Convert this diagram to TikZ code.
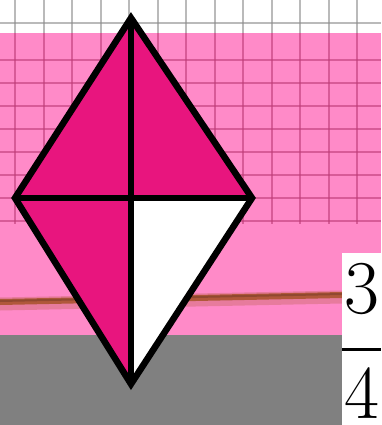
\documentclass[tikz,border=0pt]{standalone}
\definecolor{paper}{RGB}{255,138,200}
\definecolor{kite}{RGB}{232,21,126}
\definecolor{gridpink}{RGB}{190,60,120}
\definecolor{rod}{RGB}{176,88,58}
\definecolor{floor}{RGB}{128,128,128}
\begin{document}
\begin{tikzpicture}[x=1pt,y=-1pt]
    \useasboundingbox (0,0) rectangle (381,425);
    % background: white sheet, pink band, grey floor
    \fill[white] (0,0) rectangle (381,33);
    \fill[paper] (0,33) rectangle (381,335);
    \fill[floor] (0,335) rectangle (381,425);
    \foreach \x in {15,43.5,...,360} {
        \draw[black!45, line width=2, opacity=0.6] (\x,0) -- (\x,33);
        \draw[gridpink, line width=2, opacity=0.6] (\x,33) -- (\x,224);
    }
    \draw[black!45, line width=2, opacity=0.6] (0,23) -- (381,23);
    \foreach \y in {60,83,...,222}
        \draw[gridpink, line width=2, opacity=0.6] (0,\y) -- (381,\y);
    \draw[rod!50!paper, line width=13, opacity=0.6] (0,304) -- (342,297);
    \draw[rod, line width=6] (0,302) -- (342,295);
    \draw[rod!70!black, line width=2, opacity=0.6] (0,301) -- (342,294);
    % the kite, cut in four
    \coordinate (top) at (131,18);
    \coordinate (lft) at (15,198);
    \coordinate (rgt) at (252,198);
    \coordinate (bot) at (131,384);
    \coordinate (mid) at (131,198);
    \fill[kite] (top) -- (rgt) -- (mid) -- cycle;
    \fill[kite] (top) -- (lft) -- (bot) -- (mid) -- cycle;
    \fill[white] (mid) -- (rgt) -- (bot) -- cycle;
    \draw[line width=6.5, line join=miter] (top) -- (rgt) -- (bot) -- (lft) -- cycle;
    \draw[line width=6.5] (top) -- (bot) (lft) -- (rgt);
    % the fraction
    \fill[white] (342,253) rectangle (381,425);
    \node[anchor=north west, inner sep=0pt, font=\fontsize{76}{80}\selectfont] (num) at (344,263) {3};
    \node[anchor=north west, inner sep=0pt, font=\fontsize{76}{80}\selectfont] (den) at (344,367) {4};
    \draw[line width=3] (342,349) -- (381,349);
\end{tikzpicture}
\end{document}
